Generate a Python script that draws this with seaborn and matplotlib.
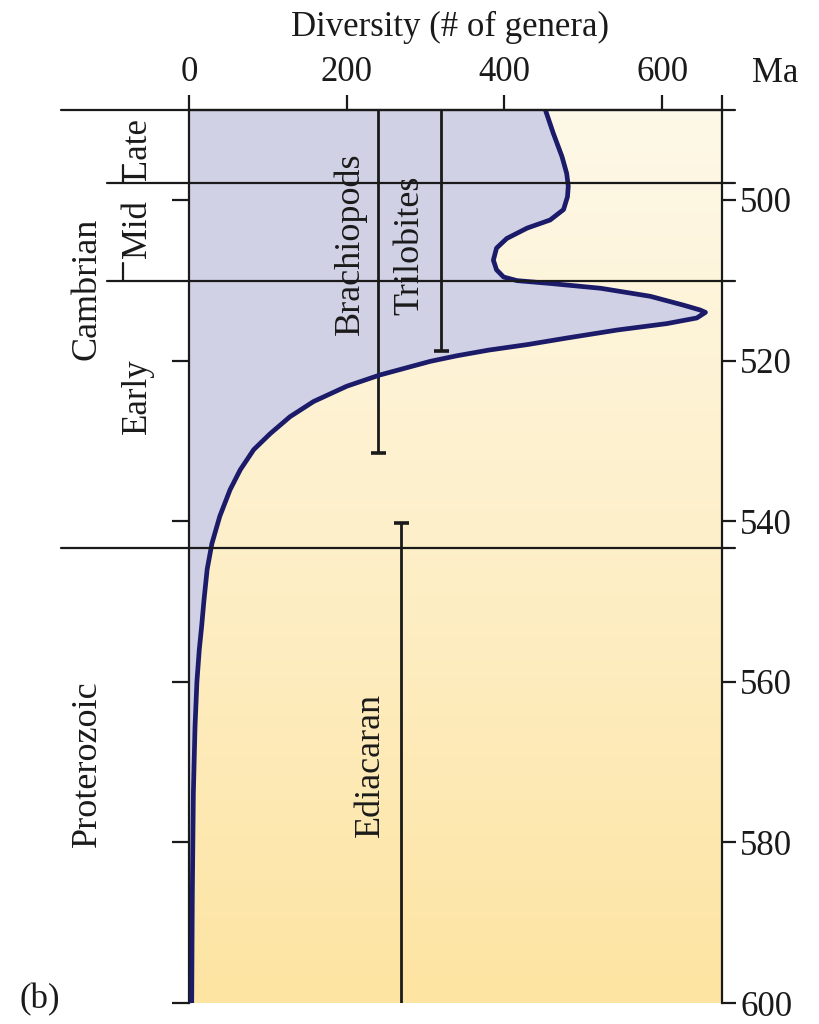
import numpy as np
import pandas as pd
import matplotlib
matplotlib.use("Agg")
import matplotlib.pyplot as plt
import seaborn as sns
from matplotlib.colors import LinearSegmentedColormap
from matplotlib.transforms import blended_transform_factory

sns.set_theme(style="white")
plt.rcParams['font.family'] = ['Liberation Serif', 'DejaVu Serif']
plt.rcParams['text.color'] = 'black'

# Generic diversity through time (Ma, number of genera)
ma = [488.8, 491.7, 494.6, 496.7, 498.3, 499.6, 501.2, 502.5, 503.5, 504.8,
      506.0, 507.5, 508.7, 509.6, 510.05, 510.4, 511.0, 512.0, 513.1, 513.7,
      514.0, 514.7, 515.4, 516.2, 517.2, 518.0, 518.7, 519.4, 520.1, 521.8,
      523.2, 525.1, 527.0, 529.1, 531.1, 533.6, 536.1, 539.4, 542.8, 546.0,
      549.8, 553.1, 556.0, 560.0, 565.6, 573.9, 586.3, 600.0]
genera = [452, 462, 473, 479, 481, 480, 475, 458, 429, 403,
          390, 386, 390, 399, 416, 458, 522, 585, 627, 648,
          655, 644, 606, 543, 479, 430, 380, 340, 306, 242,
          200, 158, 128, 103, 82, 65, 52, 39, 29, 23,
          19, 16, 13, 10, 7.6, 5.5, 4.2, 3.4]

# Stratigraphic ranges of the groups
range_names = ["Brachiopods", "Trilobites", "Ediacaran"]
range_x = [240, 320, 269]
range_start = [488.8, 488.8, 540.2]
range_end = [531.5, 518.8, 600.0]
range_cap = ["end", "end", "start"]
range_label_x = [204, 280, 230]
range_label_y = [505.4, 505.6, 570.4]

# Time scale
boundary_ma = [497.9, 510.1, 543.3]
epoch_names = ["Late", "Mid", "Early"]
epoch_label_y = [493.6, 503.6, 524.4]
period_names = ["Cambrian", "Proterozoic"]
period_label_y = [511.1, 570.2]

x_ticks = [0, 200, 400, 600]
y_ticks = [500, 520, 540, 560, 580, 600]
x_max = 676
t_top, t_bottom = 488.8, 600.0

FS = 25
df = pd.DataFrame({"ma": ma, "genera": genera})

fig = plt.figure(figsize=(8.19, 10.24), dpi=100)
ax = fig.add_axes([0.2308, 0.0205, 0.6508, 0.8721])

# Cream-to-yellow background
bg = LinearSegmentedColormap.from_list("bg", ["#FEF8E8", "#FDEFC8", "#FDE4A2"])
ax.imshow(np.linspace(0, 1, 256).reshape(-1, 1), cmap=bg, aspect="auto",
          extent=[0, x_max, t_bottom, t_top], zorder=0, interpolation="bilinear")

ax.fill_betweenx(df["ma"], 0, df["genera"], color="#D1D1E5", zorder=1, lw=0)
sns.lineplot(data=df, x="genera", y="ma", sort=False, estimator=None,
             color="#1B1B6A", lw=3.4, ax=ax, zorder=4)

ax.set_xlim(0, x_max)
ax.set_ylim(t_bottom, t_top)
ax.set_xlabel("")
ax.set_ylabel("")

lw = 1.6
trans = blended_transform_factory(ax.transAxes, ax.transData)
line_kw = dict(transform=trans, clip_on=False, color="k", lw=lw, zorder=5)
ax.plot([-0.240, 1.024], [t_top, t_top], **line_kw)
ax.plot([-0.154, 1.024], [boundary_ma[0]] * 2, **line_kw)
ax.plot([-0.154, 1.024], [boundary_ma[1]] * 2, **line_kw)
ax.plot([-0.240, 1.024], [boundary_ma[2]] * 2, **line_kw)
# short dividers in the epoch column, below the Late and Mid labels
ax.plot([-0.124, -0.124], [495.6, boundary_ma[0]], **line_kw)
ax.plot([-0.124, -0.124], [507.9, boundary_ma[1]], **line_kw)

# Range bars
cap = 9.5
for name, x, s, e, c, lx, ly in zip(range_names, range_x, range_start, range_end,
                                    range_cap, range_label_x, range_label_y):
    ax.plot([x, x], [s, e], color="k", lw=2.0, zorder=3, solid_capstyle="butt")
    cy = e if c == "end" else s
    ax.plot([x - cap, x + cap], [cy, cy], color="k", lw=2.6, zorder=3, solid_capstyle="butt")
    ax.text(lx, ly, name, rotation=90, ha="center", va="center", fontsize=FS + 1,
            color="k", zorder=6)

for name, y in zip(epoch_names, epoch_label_y):
    ax.text(-0.097, y, name, rotation=90, ha="center", va="center", fontsize=FS,
            color="k", transform=trans)
for name, y in zip(period_names, period_label_y):
    ax.text(-0.191, y, name, rotation=90, ha="center", va="center", fontsize=FS + 1,
            color="k", transform=trans)

# Axes styling
for side in ["top", "left", "right"]:
    ax.spines[side].set_visible(True)
    ax.spines[side].set_color("k")
    ax.spines[side].set_linewidth(lw)
ax.spines["bottom"].set_visible(False)

ax.xaxis.tick_top()
ax.set_xticks(x_ticks + [x_max], [str(v) for v in x_ticks] + [""])
ax.tick_params(axis="x", top=True, bottom=False, labeltop=True, labelbottom=False,
               direction="out", length=11, width=lw, labelsize=FS, pad=4,
               colors="k", labelcolor="k")
ax.set_yticks(y_ticks, [str(v) for v in y_ticks])
ax.tick_params(axis="y", left=True, right=True, labelleft=False, labelright=True,
               direction="out", length=10, width=lw, labelsize=FS, pad=3,
               colors="k", labelcolor="k")
for t in ax.yaxis.get_major_ticks():
    t.tick1line.set_markersize(12)

fig.text(450 / 819, 1 - 27 / 1024, "Diversity (# of genera)", ha="center", va="center",
         fontsize=FS, color="k")
fig.text(775 / 819, 1 - 73 / 1024, "Ma", ha="center", va="center", fontsize=FS, color="k")
fig.text(40 / 819, 1 - 1000 / 1024, "(b)", ha="center", va="center", fontsize=FS, color="k")

fig.savefig("out.png", dpi=100, facecolor="white")
